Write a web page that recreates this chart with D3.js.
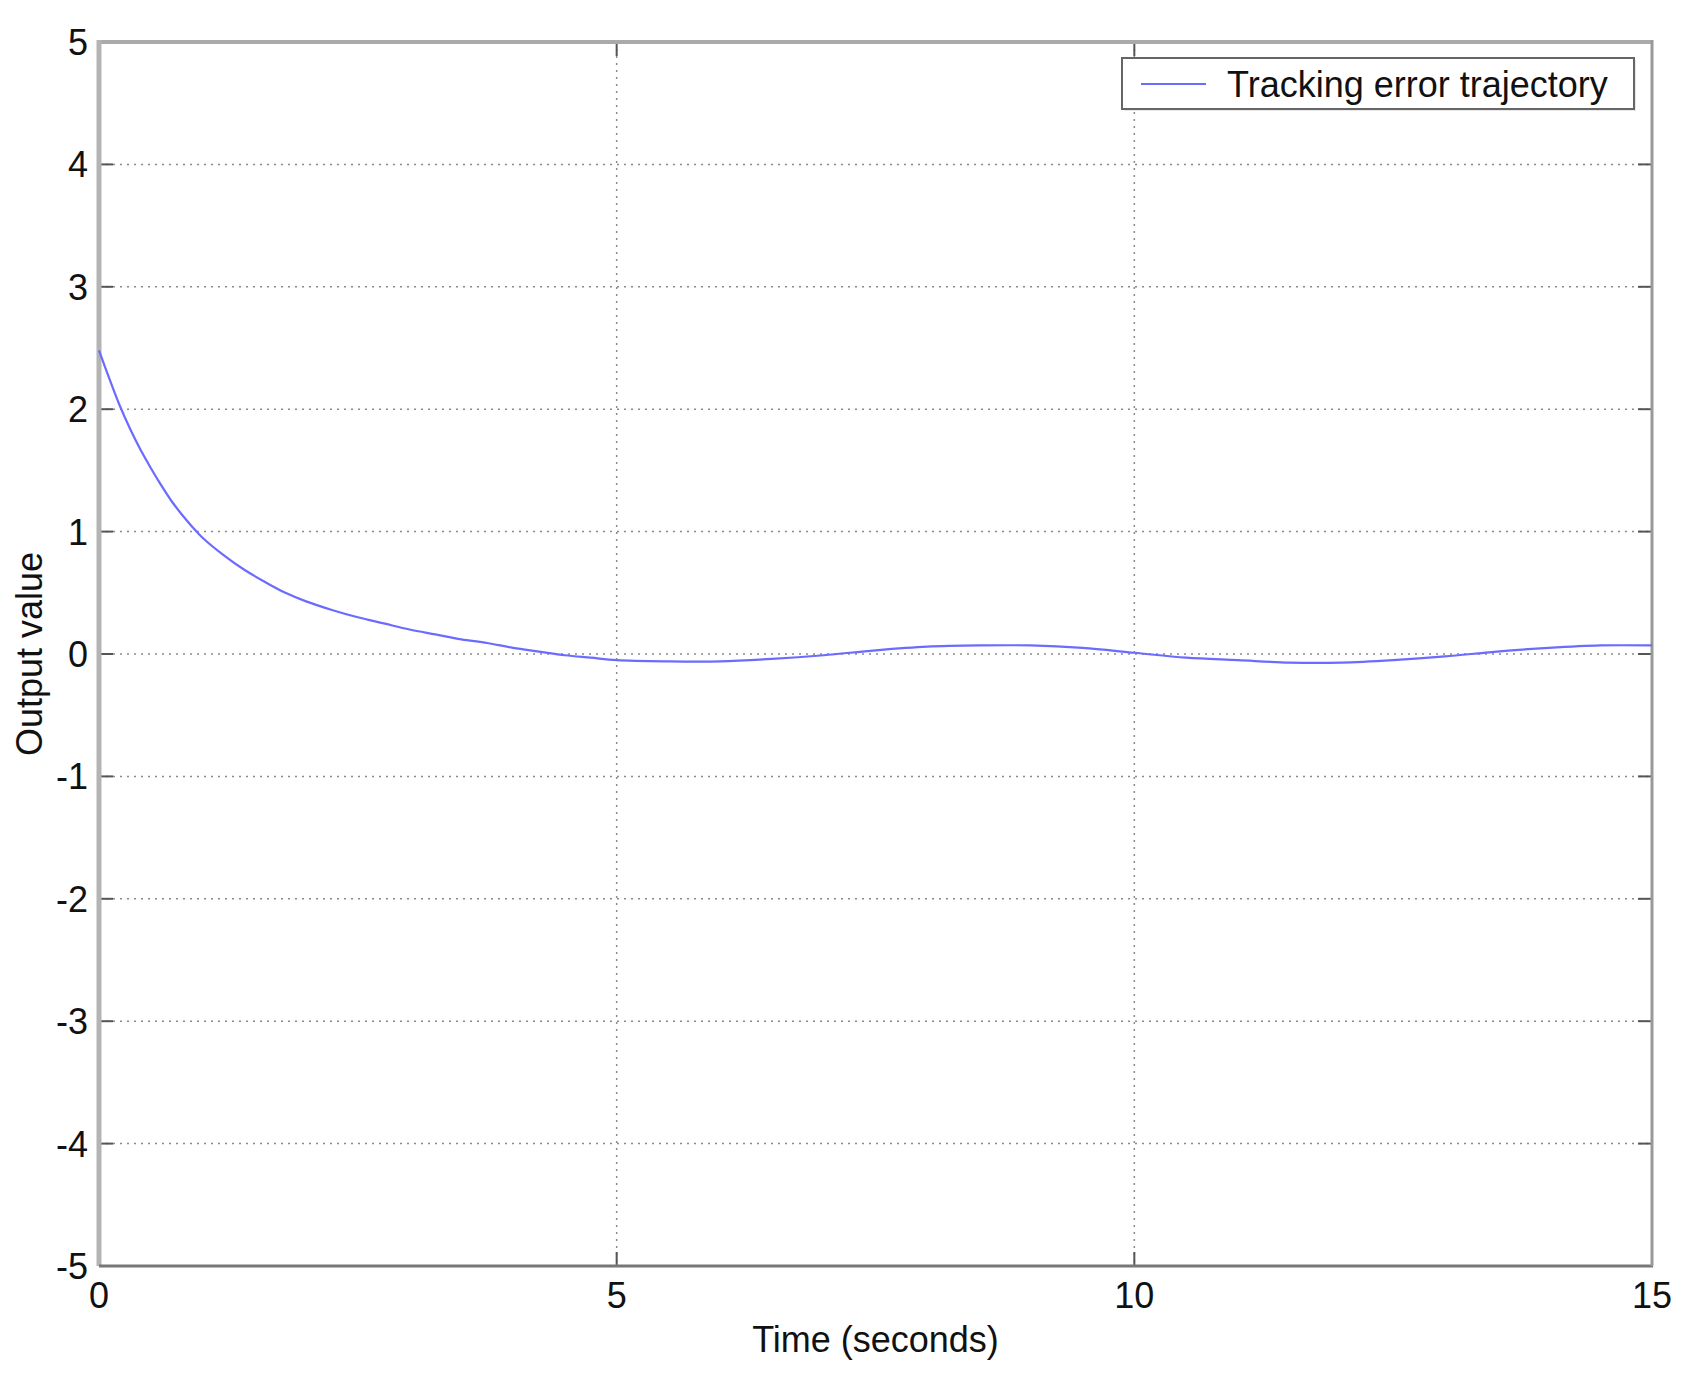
<!DOCTYPE html>
<html><head><meta charset="utf-8">
<script src="https://cdn.jsdelivr.net/npm/d3@7"></script>
<style>body{margin:0;background:#fff}svg{display:block}text{font-family:"Liberation Sans",Arial,sans-serif;fill:#111}</style>
</head><body>
<svg id="c" width="1691" height="1386"></svg>
<script>
const timeValues = [0,0.1,0.2,0.3,0.4,0.5,0.6,0.7,0.8,0.9,1.0,1.2,1.4,1.6,1.8,2.0,2.25,2.5,2.75,3.0,3.25,3.5,3.75,4.0,4.25,4.5,4.75,5.0,5.5,6.0,6.5,7.0,7.5,8.0,8.5,9.0,9.5,10.0,10.5,11.0,11.5,12.0,12.5,13.0,13.5,14.0,14.5,15.0];
const errorValues = [2.48,2.25,2.03,1.84,1.67,1.52,1.38,1.25,1.14,1.04,0.95,0.81,0.69,0.59,0.50,0.43,0.36,0.30,0.25,0.20,0.16,0.12,0.09,0.05,0.02,-0.01,-0.03,-0.05,-0.06,-0.06,-0.04,-0.01,0.03,0.06,0.07,0.07,0.05,0.01,-0.03,-0.05,-0.07,-0.07,-0.05,-0.02,0.02,0.05,0.07,0.07];
const xTicks = [0,5,10,15];
const yTicks = [-5,-4,-3,-2,-1,0,1,2,3,4,5];
const seriesName = "Tracking error trajectory";
const xTitle = "Time (seconds)";
const yTitle = "Output value";

const L=99,R=1652,T=42,B=1266;
const svg=d3.select("#c");
const x=d3.scaleLinear().domain([0,15]).range([L,R]);
const y=d3.scaleLinear().domain([-5,5]).range([B,T]);

// grid
const g=svg.append("g");
g.selectAll(".gy").data(yTicks.filter(v=>v>-5&&v<5)).join("line")
 .attr("x1",L).attr("x2",R).attr("y1",d=>y(d)).attr("y2",d=>y(d))
 .attr("stroke","#8a8a8a").attr("stroke-width",1.5).attr("stroke-dasharray","2,5");
g.selectAll(".gx").data(xTicks.filter(v=>v>0&&v<15)).join("line")
 .attr("y1",T).attr("y2",B).attr("x1",d=>x(d)).attr("x2",d=>x(d))
 .attr("stroke","#8a8a8a").attr("stroke-width",1.5).attr("stroke-dasharray","2,5");

// ticks inward on all four sides
const tk=14;
const ax=svg.append("g").attr("stroke","#555").attr("stroke-width",2);
yTicks.forEach(v=>{
  ax.append("line").attr("x1",L).attr("x2",L+tk).attr("y1",y(v)).attr("y2",y(v));
  ax.append("line").attr("x1",R-tk).attr("x2",R).attr("y1",y(v)).attr("y2",y(v));
});
xTicks.forEach(v=>{
  ax.append("line").attr("x1",x(v)).attr("x2",x(v)).attr("y1",B).attr("y2",B-tk);
  ax.append("line").attr("x1",x(v)).attr("x2",x(v)).attr("y1",T).attr("y2",T+tk);
});

// frame
svg.append("line").attr("x1",L).attr("x2",R).attr("y1",T).attr("y2",T).attr("stroke","#aaaaaa").attr("stroke-width",4);
svg.append("line").attr("x1",L).attr("x2",L).attr("y1",T-2).attr("y2",B).attr("stroke","#b4b4b4").attr("stroke-width",5);
svg.append("line").attr("x1",L).attr("x2",R+1).attr("y1",B).attr("y2",B).attr("stroke","#777").attr("stroke-width",3);
svg.append("line").attr("x1",R).attr("x2",R).attr("y1",T-2).attr("y2",B).attr("stroke","#999").attr("stroke-width",3);

// tick labels
svg.selectAll(".yl").data(yTicks).join("text")
 .attr("x",L-11).attr("y",d=>y(d)).attr("dy","0.36em").attr("text-anchor","end")
 .attr("font-size",36).text(d=>d);
svg.selectAll(".xl").data(xTicks).join("text")
 .attr("x",d=>x(d)).attr("y",1308).attr("text-anchor","middle")
 .attr("font-size",36).text(d=>d);

// titles
svg.append("text").attr("x",(L+R)/2).attr("y",1352).attr("text-anchor","middle").attr("font-size",36).attr("fill","#222").text(xTitle);
svg.append("text").attr("transform",`translate(42,${(T+B)/2}) rotate(-90)`).attr("text-anchor","middle").attr("font-size",36).attr("fill","#222").text(yTitle);

// line
const line=d3.line().x((d,i)=>x(timeValues[i])).y(d=>y(d)).curve(d3.curveCatmullRom);
svg.append("path").datum(errorValues).attr("d",line).attr("fill","none").attr("stroke","#6b6bff").attr("stroke-width",2.2);

// legend
const lg=svg.append("g");
lg.append("rect").attr("x",1124).attr("y",60).attr("width",512).attr("height",51).attr("fill","#e8e8e8");
lg.append("rect").attr("x",1122).attr("y",58).attr("width",512).attr("height",51).attr("fill","#fff").attr("stroke","#666").attr("stroke-width",2);
lg.append("line").attr("x1",1141).attr("x2",1206).attr("y1",84).attr("y2",84).attr("stroke","#6b6bff").attr("stroke-width",2.2);
lg.append("text").attr("x",1227).attr("y",97).attr("font-size",36).attr("fill","#222").text(seriesName);
</script>
</body></html>
